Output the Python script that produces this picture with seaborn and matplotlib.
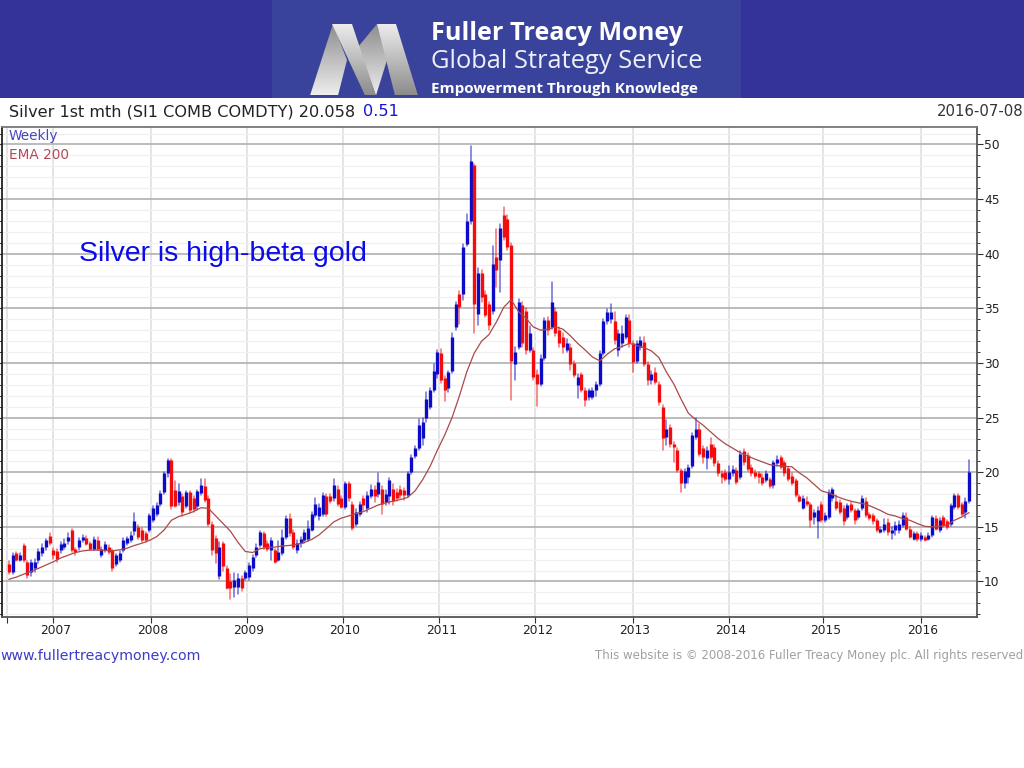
"""Silver weekly chart (Fuller Treacy Money layout)."""

import matplotlib
matplotlib.use("Agg")

import matplotlib.pyplot as plt
import numpy as np
import pandas as pd
import seaborn as sns
from matplotlib.patches import Polygon, Rectangle
from matplotlib.ticker import FixedLocator
from matplotlib.transforms import ScaledTranslation

# one bar every two weeks
opens = [
    11.6, 10.9, 12.6, 12.0, 13.3, 11.8, 10.9, 11.2, 12.0, 12.6,
    13.2, 14.2, 12.9, 12.8, 12.9, 13.2, 13.7, 14.7, 13.0, 13.2,
    13.8, 14.0, 13.5, 13.0, 13.8, 12.4, 12.9, 13.2, 12.9, 11.6,
    12.0, 12.9, 13.5, 13.8, 14.6, 15.0, 14.7, 14.4, 14.7, 15.6,
    16.2, 17.1, 18.2, 19.9, 21.1, 18.4, 17.3, 17.8, 16.9, 18.2,
    17.6, 16.9, 18.1, 18.7, 17.6, 15.3, 14.0, 10.5, 13.5, 11.2,
    10.0, 9.5, 9.5, 10.3, 10.3, 10.4, 11.2, 12.4, 13.3, 14.4,
    13.5, 12.9, 12.9, 12.0, 12.6, 14.1, 15.8, 14.5, 12.9, 13.5,
    13.8, 13.9, 14.7, 16.1, 16.0, 16.2, 17.8, 17.8, 17.6, 18.5,
    17.6, 16.8, 19.0, 17.1, 15.3, 16.2, 17.6, 16.7, 17.8, 18.5,
    18.0, 18.5, 17.3, 17.8, 18.5, 18.2, 18.5, 18.4, 17.9, 20.0,
    21.5, 22.2, 23.1, 25.0, 26.0, 27.5, 29.0, 30.9, 28.6, 27.7,
    29.3, 33.3, 36.3, 36.3, 40.9, 43.0, 48.1, 34.5, 38.2, 36.3,
    35.4, 34.8, 39.7, 39.4, 43.5, 43.2, 40.8, 29.9, 31.5, 35.3,
    34.8, 31.2, 31.2, 29.0, 28.1, 30.5, 33.9, 33.3, 34.8, 33.0,
    32.4, 31.2, 31.5, 30.0, 28.0, 29.0, 27.5, 26.9, 26.9, 27.5,
    28.1, 30.9, 33.8, 34.0, 33.8, 31.2, 31.8, 32.4, 33.9, 31.8,
    30.2, 31.5, 31.9, 29.9, 28.4, 29.2, 28.1, 26.0, 23.2, 24.1,
    22.6, 22.0, 20.2, 19.0, 19.6, 20.6, 23.2, 24.0, 22.2, 21.3,
    22.6, 22.3, 20.8, 19.9, 20.0, 19.4, 19.9, 20.2, 19.6, 21.9,
    21.6, 20.5, 20.0, 19.9, 19.6, 19.3, 19.4, 18.8, 20.8, 21.4,
    20.9, 20.4, 19.7, 19.3, 17.8, 16.7, 17.4, 17.1, 15.9, 15.5,
    17.1, 15.6, 15.9, 17.6, 17.4, 17.3, 16.7, 15.9, 17.1, 16.5,
    15.9, 16.7, 17.4, 16.2, 16.1, 15.6, 14.5, 14.7, 15.4, 14.4,
    14.7, 14.7, 15.2, 15.9, 14.85, 13.9, 14.4, 13.9, 14.1, 13.9,
    14.25, 15.8, 14.7, 15.9, 15.5, 15.3, 16.8, 17.9, 17.1, 16.4,
    17.4,
]
closes = [
    10.9, 12.4, 12.0, 12.4, 12.0, 10.6, 11.8, 11.8, 12.8, 13.2,
    13.8, 13.5, 12.4, 12.1, 13.4, 13.5, 14.1, 12.9, 12.7, 13.8,
    14.1, 13.4, 13.0, 13.9, 13.0, 13.0, 13.4, 12.7, 11.2, 12.4,
    12.6, 13.8, 14.0, 14.3, 15.5, 14.1, 13.8, 13.8, 16.1, 16.7,
    17.0, 18.1, 19.9, 21.1, 16.9, 16.9, 18.3, 16.4, 18.2, 16.5,
    16.6, 18.3, 18.8, 17.5, 15.3, 12.9, 12.6, 13.2, 11.4, 9.4,
    9.4, 10.1, 10.3, 9.4, 10.9, 11.5, 12.2, 13.2, 14.5, 13.2,
    13.0, 13.8, 11.8, 12.7, 14.1, 15.8, 14.4, 13.2, 13.5, 13.9,
    14.5, 14.9, 16.2, 17.1, 16.8, 17.9, 16.2, 17.4, 18.8, 17.1,
    16.8, 19.0, 17.6, 14.9, 16.4, 17.1, 17.0, 17.9, 18.5, 17.8,
    19.1, 17.1, 18.0, 19.3, 17.4, 17.6, 17.9, 17.9, 19.9, 21.4,
    22.2, 24.3, 24.6, 26.7, 27.5, 29.3, 31.0, 28.4, 27.5, 29.2,
    32.4, 35.4, 35.1, 40.6, 43.0, 48.5, 35.4, 38.2, 36.0, 34.4,
    33.5, 39.1, 38.5, 42.4, 41.5, 40.6, 30.2, 31.0, 35.6, 31.8,
    31.2, 32.7, 28.7, 28.1, 30.5, 33.9, 33.0, 35.6, 32.7, 31.8,
    31.5, 31.8, 29.9, 28.9, 28.7, 27.5, 26.6, 27.5, 27.5, 28.1,
    30.9, 33.8, 34.7, 34.7, 32.1, 32.7, 32.7, 34.2, 31.8, 30.1,
    31.8, 32.1, 29.9, 28.4, 29.0, 28.3, 26.4, 23.1, 24.0, 22.6,
    22.3, 20.2, 19.0, 20.1, 20.5, 23.4, 24.0, 21.7, 21.4, 22.0,
    21.4, 20.8, 19.9, 19.6, 19.4, 20.0, 20.3, 19.1, 21.7, 20.9,
    20.3, 19.9, 19.7, 19.6, 19.0, 19.9, 18.7, 20.9, 21.2, 20.5,
    19.9, 19.4, 19.0, 17.9, 17.4, 17.6, 17.1, 15.6, 16.4, 16.5,
    15.6, 16.1, 18.2, 18.5, 16.7, 16.4, 15.5, 17.0, 16.5, 15.6,
    16.5, 17.6, 16.1, 15.8, 15.5, 14.7, 14.85, 15.3, 14.5, 14.7,
    15.2, 15.3, 16.1, 14.85, 14.1, 14.4, 13.9, 14.25, 13.8, 14.25,
    15.9, 14.85, 15.6, 15.2, 15.0, 17.0, 17.9, 16.8, 16.2, 17.4,
    20.058,
]
highs = [
    11.9, 12.6, 12.7, 12.6, 13.4, 11.9, 12.0, 12.1, 13.0, 13.4,
    13.9, 14.4, 13.1, 13.0, 13.6, 13.9, 14.4, 14.8, 13.1, 14.0,
    14.3, 14.2, 13.6, 14.1, 14.1, 13.2, 13.6, 13.3, 13.0, 12.5,
    12.8, 14.0, 14.1, 14.5, 16.3, 15.2, 14.9, 14.5, 16.2, 16.9,
    17.2, 18.3, 20.0, 21.2, 21.2, 19.2, 18.9, 18.0, 18.3, 18.3,
    17.8, 18.4, 19.4, 19.4, 17.8, 15.4, 14.2, 13.6, 13.6, 11.4,
    10.7, 10.8, 10.7, 10.5, 11.0, 11.7, 12.4, 13.4, 14.6, 14.5,
    13.7, 14.0, 13.0, 13.7, 14.7, 16.0, 16.2, 14.7, 13.8, 14.1,
    14.7, 15.5, 16.4, 17.6, 17.1, 18.1, 18.0, 18.0, 19.4, 18.7,
    17.8, 19.1, 19.1, 17.3, 16.6, 17.3, 17.8, 18.2, 18.8, 18.7,
    19.9, 18.7, 18.4, 19.5, 18.9, 18.5, 18.7, 18.6, 20.0, 21.6,
    22.4, 24.9, 25.0, 27.3, 27.7, 29.9, 31.2, 31.3, 28.8, 29.3,
    32.7, 35.6, 36.6, 40.9, 43.6, 49.85, 48.2, 38.7, 38.5, 36.6,
    35.6, 40.7, 42.3, 42.7, 44.3, 43.5, 41.0, 31.5, 35.9, 35.6,
    35.0, 33.4, 31.4, 29.4, 30.7, 34.1, 34.2, 37.4, 35.0, 33.3,
    32.7, 32.2, 31.7, 30.2, 29.0, 29.1, 27.7, 27.6, 27.7, 28.3,
    31.1, 34.0, 34.9, 35.4, 34.7, 33.0, 33.4, 34.4, 34.4, 32.0,
    32.0, 32.4, 32.4, 30.1, 29.3, 29.5, 28.3, 26.2, 24.8, 24.3,
    22.8, 22.2, 20.3, 20.3, 20.7, 23.6, 25.0, 24.4, 22.4, 22.3,
    23.1, 22.5, 21.0, 20.1, 20.2, 20.6, 20.6, 20.4, 21.9, 22.1,
    21.8, 20.7, 20.2, 20.0, 19.8, 20.1, 19.5, 21.0, 21.5, 21.5,
    21.0, 20.5, 19.9, 19.4, 17.9, 17.8, 17.7, 17.2, 16.5, 16.8,
    17.3, 16.3, 18.4, 18.6, 17.9, 17.5, 16.9, 17.1, 17.3, 16.6,
    16.6, 17.8, 17.6, 16.3, 16.2, 15.7, 15.0, 15.7, 15.7, 15.0,
    15.4, 15.5, 16.3, 16.3, 15.0, 14.5, 14.5, 14.4, 14.2, 14.4,
    16.0, 16.0, 15.8, 16.0, 15.6, 17.1, 18.0, 18.0, 17.2, 17.6,
    21.16,
]
lows = [
    10.7, 10.7, 11.9, 11.9, 11.8, 10.3, 10.5, 10.9, 11.7, 12.3,
    12.9, 13.3, 12.1, 11.8, 12.6, 13.0, 13.4, 12.7, 12.4, 12.9,
    13.6, 13.3, 12.9, 12.9, 12.9, 12.2, 12.7, 12.5, 11.0, 11.4,
    11.8, 12.7, 13.3, 13.6, 14.3, 13.9, 13.6, 13.6, 14.5, 15.4,
    16.0, 16.9, 18.0, 19.6, 16.6, 16.8, 17.0, 16.0, 16.7, 16.3,
    16.4, 16.5, 17.9, 17.3, 15.1, 12.4, 11.7, 10.2, 11.0, 9.3,
    8.4, 8.6, 8.9, 9.1, 10.1, 10.1, 11.0, 12.2, 13.2, 13.0,
    12.8, 12.0, 11.7, 11.9, 12.4, 13.9, 14.2, 13.0, 12.6, 13.2,
    13.5, 13.7, 14.6, 15.9, 15.6, 16.0, 16.0, 17.2, 17.4, 16.9,
    16.7, 16.6, 17.4, 14.7, 15.1, 16.0, 16.5, 16.4, 17.6, 17.3,
    17.7, 16.2, 17.0, 17.1, 17.0, 17.4, 17.6, 17.5, 17.7, 19.8,
    21.3, 22.0, 22.5, 24.6, 25.8, 27.3, 28.6, 28.2, 26.5, 27.3,
    29.1, 33.0, 33.6, 35.8, 40.7, 42.7, 32.7, 33.5, 35.6, 34.2,
    33.0, 34.5, 37.0, 36.5, 41.3, 40.3, 26.6, 28.4, 31.3, 31.5,
    30.8, 31.0, 28.4, 26.1, 27.9, 30.3, 32.6, 33.1, 32.5, 31.5,
    30.9, 31.0, 29.4, 28.7, 26.8, 27.3, 26.1, 26.6, 26.7, 27.0,
    27.9, 30.7, 33.6, 33.7, 31.7, 30.6, 31.5, 32.2, 31.5, 29.2,
    30.0, 31.2, 29.7, 28.0, 28.1, 28.1, 26.2, 22.0, 22.5, 22.3,
    20.9, 20.0, 18.2, 18.6, 19.0, 20.4, 23.0, 21.5, 20.8, 20.3,
    21.2, 20.6, 19.7, 19.0, 19.2, 18.9, 19.7, 18.9, 19.4, 20.7,
    20.1, 19.7, 19.5, 19.0, 18.8, 19.1, 18.6, 18.6, 20.6, 20.3,
    19.7, 19.2, 18.8, 17.7, 17.3, 16.6, 16.9, 15.0, 15.3, 14.0,
    15.4, 15.4, 15.7, 17.4, 16.5, 16.2, 15.2, 15.7, 16.4, 15.3,
    15.7, 16.5, 15.9, 15.6, 15.3, 14.5, 14.4, 14.5, 14.3, 13.9,
    14.3, 14.4, 15.0, 14.7, 14.0, 13.8, 13.7, 13.7, 13.7, 13.8,
    14.1, 14.7, 14.5, 15.0, 14.8, 15.1, 16.6, 16.6, 16.0, 15.8,
    17.2,
]

# EMA 200, read every fourth week
ema_values = [
    10.2, 10.4, 10.67, 10.95, 11.2, 11.5, 11.8, 12.15, 12.4, 12.65,
    12.8, 12.87, 12.87, 12.85, 12.8, 12.9, 13.05, 13.3, 13.5, 13.75,
    14.1, 14.7, 15.6, 15.95, 16.15, 16.4, 16.75, 16.7, 16.0, 15.3,
    14.6, 13.6, 12.75, 12.65, 13.0, 13.1, 13.15, 13.25, 13.3, 13.4,
    13.57, 13.85, 14.27, 14.85, 15.46, 15.8, 16.0, 16.2, 16.4, 16.7,
    17.0, 17.2, 17.35, 17.5, 17.7, 18.3, 19.3, 20.5, 22.0, 23.4,
    25.0, 27.0, 29.2, 30.9, 32.0, 32.6, 33.75, 35.1, 35.8, 34.7,
    34.1, 33.3, 33.0, 33.1, 33.3, 33.1, 32.5, 31.8, 31.2, 30.55,
    30.2, 30.8, 31.3, 31.5, 31.8, 31.6, 31.4, 31.1, 30.5, 29.2,
    28.1, 26.7, 25.4, 24.8, 24.3, 23.7, 23.1, 22.6, 22.2, 21.8,
    21.5, 21.2, 20.95, 20.7, 20.6, 20.55, 20.5, 19.95, 19.5, 18.9,
    18.3, 18.1, 17.8, 17.55, 17.35, 17.2, 17.07, 16.8, 16.5, 16.15,
    16.0, 15.75, 15.6, 15.3, 15.05, 15.0, 15.05, 15.15, 15.6, 15.9,
    16.3,
]

year_dates = ["2006-07-15", "2007-01-05", "2008-01-11", "2009-01-09", "2010-01-08", "2011-01-07",
              "2012-01-06", "2013-01-11", "2014-01-10", "2015-01-02", "2016-01-08"]
year_labels = ["", "2007", "2008", "2009", "2010", "2011", "2012", "2013", "2014", "2015", "2016"]
price_ticks = [10, 15, 20, 25, 30, 35, 40, 45, 50]
price_minor = [7, 8, 9, 11, 12, 13, 14, 16, 17, 18, 19, 21, 22, 23, 24, 26, 27, 28, 29, 31, 32, 33,
               34, 36, 37, 38, 39, 41, 42, 43, 44, 46, 47, 48, 49, 51]

UP = "#0c0cc8"
DOWN = "#f40c0c"
EMA_COLOR = "#a84a4a"

sns.set_theme(style="white")
plt.rcParams["font.family"] = ["DejaVu Sans"]

dates = pd.date_range(end="2016-07-08", periods=len(closes), freq="14D")
bars = pd.DataFrame({"date": dates, "open": opens, "high": highs, "low": lows, "close": closes})
bars["bar"] = np.arange(len(bars))
bars["dir"] = np.where(bars["close"] >= bars["open"], "up", "down")
wicks = bars.melt(id_vars=["date", "bar", "dir"], value_vars=["low", "high"], value_name="price")
bodies = bars.melt(id_vars=["date", "bar", "dir"], value_vars=["open", "close"], value_name="price")
ema = pd.DataFrame({"date": dates[::2], "ema": ema_values})

fig = plt.figure(figsize=(10.24, 7.68), dpi=100, facecolor="white")
ax = fig.add_axes([1.5 / 1024, 1 - 617 / 768, (977 - 1.5) / 1024, (617 - 127) / 768])
palette = {"up": UP, "down": DOWN}

# gridlines
ax.set_axisbelow(True)
ax.yaxis.set_major_locator(FixedLocator(price_ticks))
ax.yaxis.set_minor_locator(FixedLocator(price_minor))
ax.grid(which="major", axis="y", color="#b0b0b0", lw=1.2)
ax.grid(which="minor", axis="y", color="#f0f0f0", lw=1.0)

sns.lineplot(data=wicks, x="date", y="price", units="bar", hue="dir", hue_order=["up", "down"],
             palette=palette, estimator=None, sort=False, lw=1.1, alpha=0.6, legend=False, ax=ax)
sns.lineplot(data=bodies, x="date", y="price", units="bar", hue="dir", hue_order=["up", "down"],
             palette=palette, estimator=None, sort=False, lw=2.4, legend=False, ax=ax,
             solid_capstyle="butt")
sns.lineplot(data=ema, x="date", y="ema", color=EMA_COLOR, lw=0.9, ax=ax, zorder=5)

ax.set_ylim(6.75, 51.6)
ax.set_xlim(dates[0] - pd.Timedelta(days=28), dates[-1] + pd.Timedelta(days=30))
ax.set_xlabel("")
ax.set_ylabel("")
ax.set_xticks(pd.to_datetime(year_dates))
ax.set_xticklabels(year_labels, fontsize=8.8, color="#222222")
ax.grid(which="major", axis="x", color="#dddddd", lw=1.1)
ax.yaxis.tick_right()
ax.tick_params(axis="y", which="major", left=True, right=True, length=4, width=0.8, pad=1,
               labelsize=8.8, labelcolor="#222222", color="#333333")
ax.tick_params(axis="y", which="minor", left=True, right=True, length=2.5, width=0.7, color="#333333")
ax.tick_params(axis="x", bottom=True, length=4, width=0.8, pad=1, color="#333333")
# year labels sit a little right of their gridlines
for label in ax.get_xticklabels():
    label.set_transform(label.get_transform() + ScaledTranslation(2 / 100, 0, fig.dpi_scale_trans))
for name, spine in ax.spines.items():
    spine.set_visible(True)
    spine.set_linewidth(1.3)
    spine.set_color("#555555")
ax.spines["left"].set_color("#222222")
ax.spines["top"].set_color("#777777")

# banner and page texts, in pixel coordinates
page = fig.add_axes([0, 0, 1, 1], zorder=10)
page.set_axis_off()
page.patch.set_alpha(0)
page.add_patch(Rectangle((0, 0), 1024, 97.5, color="#333399", lw=0))
page.add_patch(Rectangle((272, 0), 469, 97.5, color="#3a439b", lw=0))


def ribbon(points, light_at_bottom):
    grad = np.linspace(0.55, 0.93, 64).reshape(-1, 1)
    if not light_at_bottom:
        grad = grad[::-1]
    xs = [p[0] for p in points]
    ys = [p[1] for p in points]
    im = page.imshow(grad, cmap="gray", vmin=0, vmax=1, aspect="auto",
                     extent=(min(xs), max(xs), max(ys), min(ys)), zorder=2)
    poly = Polygon(points, closed=True, transform=page.transData, facecolor="none", edgecolor="none")
    page.add_patch(poly)
    im.set_clip_path(poly)


ribbon([(310, 95.5), (333, 24), (347, 60), (338, 95.5)], True)
ribbon([(358, 47), (377, 24), (387, 60), (376, 95.5)], True)
ribbon([(332, 24), (352, 24), (376, 95.5), (365, 95.5)], False)
ribbon([(377, 24), (396, 24), (418, 95.5), (395, 95.5)], False)
page.set_xlim(0, 1024)
page.set_ylim(768, 0)

page.text(431, 33, "Fuller Treacy Money", color="white", fontsize=18.2, fontweight="bold",
          family="Open Sans", va="center")
page.text(431, 62, "Global Strategy Service", color="#eef0f8", fontsize=18.4, family="Open Sans", va="center")
page.text(431, 89, "Empowerment Through Knowledge", color="white", fontsize=11, fontweight="bold",
          family="Open Sans", va="center")

page.text(9, 112, "Silver 1st mth (SI1 COMB COMDTY) 20.058", color="#222222", fontsize=11.6, va="center")
page.text(363, 112, "0.51", color="#1414d2", fontsize=11.6, va="center")
page.text(1023, 112, "2016-07-08", color="#333333", fontsize=10.7, va="center", ha="right")
page.text(9, 136, "Weekly", color="#4646c0", fontsize=9.8, va="center")
page.text(9, 155, "EMA 200", color="#b04a58", fontsize=9.8, va="center")
page.text(79, 254, "Silver is high-beta gold", color="#0a0aeb", fontsize=20.5,
          family="Liberation Sans", va="center")
page.text(0, 656, "www.fullertreacymoney.com", color="#3c3cc8", fontsize=10.2, va="center")
page.text(1023, 656, "This website is © 2008-2016 Fuller Treacy Money plc. All rights reserved",
          color="#a0a0a0", fontsize=8.5, va="center", ha="right")

fig.savefig("out.png", dpi=100)
